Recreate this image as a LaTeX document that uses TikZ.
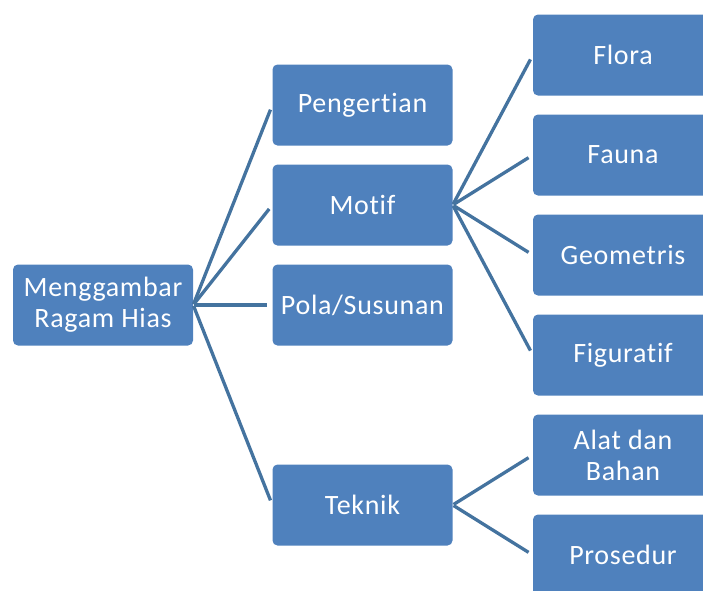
\documentclass[tikz,border=0pt]{standalone}
\usepackage{fontspec}
\setmainfont[Ligatures=NoCommon,LetterSpace=2.5]{Carlito}
\definecolor{boxblue}{HTML}{4F81BD}
\definecolor{lineblue}{HTML}{44739F}
\begin{document}
\begin{tikzpicture}[x=1pt,y=-1pt,
  box/.style={fill=boxblue, rounded corners=5pt, minimum width=180pt, minimum height=81pt,
    text=white, align=center, font=\fontsize{28}{31}\selectfont, inner sep=0pt},
  conn/.style={draw=lineblue, line width=3.3pt, shorten >=5pt, shorten <=1pt}]
\useasboundingbox (0,0) rectangle (703,590);
\clip (0,0) rectangle (703,590);
\node[box] (root) at (103,305) {Menggambar\\Ragam Hias};
\node[box] (pen) at (362.5,105) {Pengertian};
\node[box] (mot) at (362.5,205) {Motif};
\node[box] (pol) at (362.5,305) {Pola/Susunan};
\node[box] (tek) at (362.5,505) {Teknik};
\node[box] (flo) at (623,55) {Flora};
\node[box] (fau) at (623,155) {Fauna};
\node[box] (geo) at (623,255) {Geometris};
\node[box] (fig) at (623,355) {Figuratif};
\node[box] (ala) at (623,455) {Alat dan\\Bahan};
\node[box] (pro) at (623,555) {Prosedur};
\foreach \c in {pen,mot,pol,tek} \draw[conn] (root.east) -- (\c.west);
\foreach \c in {flo,fau,geo,fig} \draw[conn] (mot.east) -- (\c.west);
\foreach \c in {ala,pro} \draw[conn] (tek.east) -- (\c.west);
\end{tikzpicture}
\end{document}
